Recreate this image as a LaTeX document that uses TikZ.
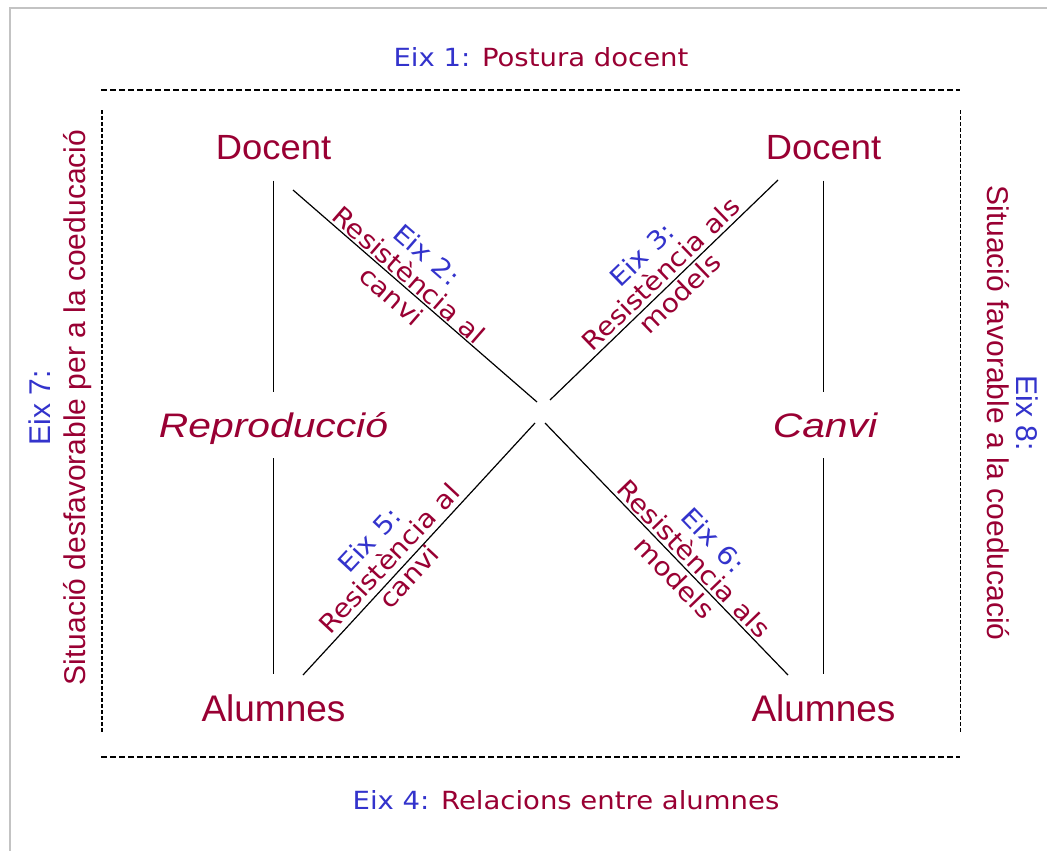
\documentclass[tikz,border=0pt]{standalone}
\usepackage{fontspec}
\setmainfont{Liberation Sans}
\newfontfamily\dv[FakeStretch=1.1]{DejaVu Sans}
\newfontfamily\lsA[FakeStretch=1.04]{Liberation Sans}
\newfontfamily\lsI[FakeStretch=1.2]{Liberation Sans}
\usetikzlibrary{calc}
\definecolor{mar}{RGB}{153,0,51}
\definecolor{blu}{RGB}{51,51,204}
\definecolor{framegray}{RGB}{195,195,195}
\begin{document}
\begin{tikzpicture}[x=1pt,y=-1pt,
  main/.style={text=mar, font=\lsA\fontsize{35}{40}\selectfont, text height=25pt, text depth=0pt, inner xsep=0pt, inner ysep=21pt},
  alum/.style={main, font=\fontsize{37}{42}\selectfont, text height=26.5pt},
  ital/.style={main, font=\lsI\itshape\fontsize{34}{40}\selectfont, text height=24.3pt},
  title/.style={text=mar, font=\dv\fontsize{25}{27}\selectfont, text height=18.2pt, text depth=0pt, inner sep=0pt},
  diag/.style={text=mar, font=\dv\fontsize{25.5}{27}\selectfont, align=center, inner sep=0pt},
  side/.style={text=mar, font=\fontsize{30}{35}\selectfont, align=center, inner sep=0pt},
  ln/.style={line width=1.2pt},
  hdash/.style={line width=1.4pt, dash pattern=on 6pt off 3pt},
  vdash/.style={line width=1.3pt, dash pattern=on 4pt off 2pt}]
\useasboundingbox (0,0) rectangle (1047,851);
\fill[white] (0,0) rectangle (1047,851);
% outer frame
\draw[framegray, line width=2pt] (1047,8) -- (9.5,8) -- (9.5,851);
% dashed box
\draw[hdash] (101,90) -- (960,90);
\draw[hdash] (101,757) -- (960,757);
\draw[vdash] (102,110) -- (102,733);
\draw[vdash] (960.5,110) -- (960.5,733);
% titles
\node[title] (ax1) at (541,57.8) {{\color{blu}Eix 1:} Postura docent};
\node[title] (ax4) at (566,800) {{\color{blu}Eix 4:} Relacions entre alumnes};
\node[side, rotate=90] (ax7) at (60,407.5) {{\color{blu}Eix 7:}\\Situació desfavorable per a la coeducació};
\node[side, rotate=-90, font=\fontsize{30}{29}\selectfont] (ax8) at (1013,413) {{\color{blu}Eix 8:}\\Situació favorable a la coeducació};
% main nodes
\node[main] (docL) at (273.5,147) {Docent};
\node[main] (docR) at (823.5,147) {Docent};
\node[ital] (rep) at (273.5,425) {Reproducció};
\node[ital] (canvi) at (825,425) {Canvi};
\node[alum] (alL) at (273.5,708) {Alumnes};
\node[alum] (alR) at (823.5,708) {Alumnes};
% vertical connectors
\draw[ln] (docL.south) -- (docL.south |- rep.north);
\draw[ln] (docL.south |- rep.south) -- (docL.south |- alL.north);
\draw[ln] (docR.south) -- (docR.south |- canvi.north);
\draw[ln] (docR.south |- canvi.south) -- (docR.south |- alR.north);
% diagonals
\coordinate (ul1) at (293,190); \coordinate (ul2) at (537,402);
\coordinate (ur1) at (550,400); \coordinate (ur2) at (778,180);
\coordinate (ll1) at (303,675); \coordinate (ll2) at (535,423);
\coordinate (lr1) at (545,423); \coordinate (lr2) at (788,675);
\draw[ln] (ul1) -- (ul2);
\draw[ln] (ur1) -- (ur2);
\draw[ln] (ll1) -- (ll2);
\draw[ln] (lr1) -- (lr2);
% diagonal labels
\coordinate (m2) at ($(ul1)!0.444!(ul2)$);
\coordinate (m3) at ($(ur1)!0.528!(ur2)$);
\coordinate (m5) at ($(ll1)!0.421!(ll2)$);
\coordinate (m6) at ($(lr1)!0.575!(lr2)$);
\node[diag, rotate=-41] (e2) at ($(m2)!12pt!90:(ul2)$) {{\color{blu}Eix 2:}\\Resistència al\\canvi};
\node[diag, rotate=44] (e3) at ($(m3)!14pt!90:(ur2)$) {{\color{blu}Eix 3:}\\Resistència als\\models};
\node[diag, rotate=47] (e5) at ($(m5)!16pt!90:(ll2)$) {{\color{blu}Eix 5:}\\Resistència al\\canvi};
\node[diag, rotate=-46] (e6) at ($(m6)!13pt!90:(lr2)$) {{\color{blu}Eix 6:}\\Resistència als\\models};
\end{tikzpicture}
\end{document}
